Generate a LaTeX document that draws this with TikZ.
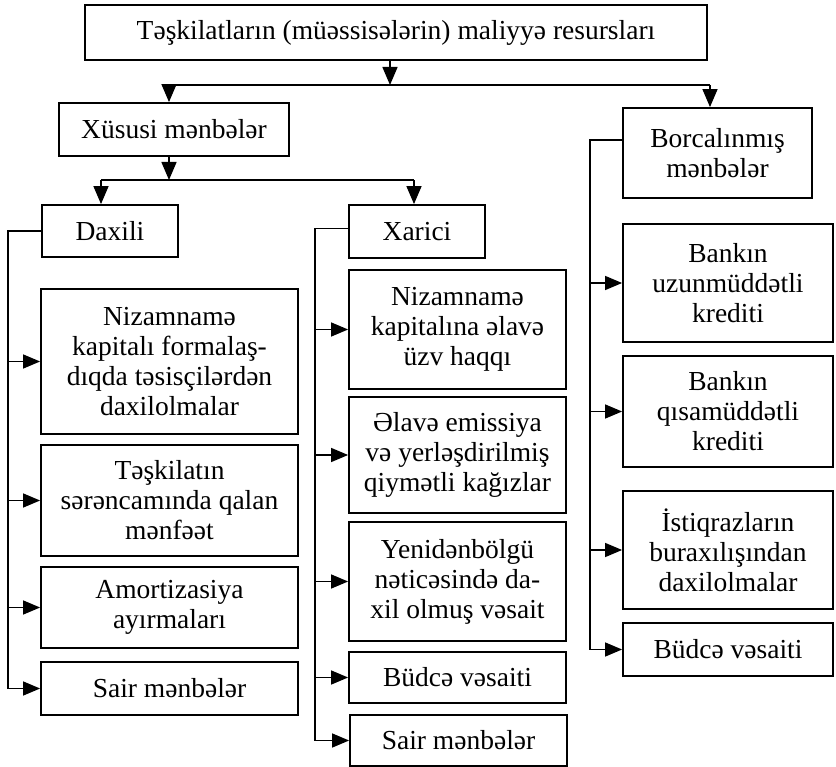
\documentclass[tikz,border=0pt]{standalone}
\usepackage{fontspec}
\setmainfont{Liberation Serif}
\usetikzlibrary{arrows.meta,calc}

\begin{document}
\begin{tikzpicture}[x=1pt,y=-1pt,
  box/.style={draw,line width=1.8pt,align=center,inner sep=0pt,
    font=\fontsize{27.5}{30}\selectfont},
  link/.style={line width=1.4pt},
  arr/.style={line width=1.4pt,-{Triangle[length=18pt,width=15pt]}},
  harr/.style={line width=1.4pt,-{Triangle[length=17pt,width=14pt]}}]
\useasboundingbox (0,0) rectangle (836,767);

% top level
\node[box,minimum width=622pt,minimum height=55pt] (top) at (396,32.5)
  {Təşkilatların (müəssisələrin) maliyyə resursları};
\node[box,minimum width=230pt,minimum height=53pt] (own) at (174,129.5)
  {Xüsusi mənbələr};
\node[box,minimum width=189pt,minimum height=90pt] (borc) at (717.5,153)
  {Borcalınmış\\mənbələr};

% second level of own sources
\node[box,minimum width=136pt,minimum height=52pt] (dax) at (110,231) {Daxili};
\node[box,minimum width=136pt,minimum height=53pt] (xar) at (417,231.5) {Xarici};

% internal sources
\node[box,minimum width=257pt,minimum height=145pt] (L1) at (169.5,361.5)
  {Nizamnamə\\kapitalı formalaş-\\dıqda təsisçilərdən\\daxilolmalar};
\node[box,minimum width=257pt,minimum height=111pt] (L2) at (169.5,500.5)
  {Təşkilatın\\sərəncamında qalan\\mənfəət};
\node[box,minimum width=257pt,minimum height=81pt] (L3) at (169.5,607.5)
  {Amortizasiya\\ayırmaları};
\node[box,minimum width=257pt,minimum height=53pt] (L4) at (169.5,688.5)
  {Sair mənbələr};

% external sources
\node[box,minimum width=217pt,minimum height=119pt] (M1) at (457.5,329.5)
  {Nizamnamə\\kapitalına əlavə\\üzv haqqı};
\node[box,minimum width=217pt,minimum height=116pt] (M2) at (457.5,455)
  {Əlavə emissiya\\və yerləşdirilmiş\\qiymətli kağızlar};
\node[box,minimum width=217pt,minimum height=119pt] (M3) at (457.5,581.5)
  {Yenidənbölgü\\nəticəsində da-\\xil olmuş vəsait};
\node[box,minimum width=217pt,minimum height=51pt] (M4) at (457.5,677.5)
  {Büdcə vəsaiti};
\node[box,minimum width=217pt,minimum height=51pt] (M5) at (458.5,740.5)
  {Sair mənbələr};

% borrowed sources
\node[box,minimum width=210pt,minimum height=118pt] (R1) at (728,283)
  {Bankın\\uzunmüddətli\\krediti};
\node[box,minimum width=210pt,minimum height=111pt] (R2) at (728,411.5)
  {Bankın\\qısamüddətli\\krediti};
\node[box,minimum width=210pt,minimum height=118pt] (R3) at (728,550)
  {İstiqrazların\\buraxılışından\\daxilolmalar};
\node[box,minimum width=210pt,minimum height=53pt] (R4) at (728,649.5)
  {Büdcə vəsaiti};

% junctions and trunk lines
\coordinate (j1) at (390,85);
\coordinate (j2) at (169,180);
\coordinate (tl) at (8,0);
\coordinate (tm) at (315,0);
\coordinate (tr) at (590,0);

% top split
\draw[arr] (top.south -| j1) -- (j1);
\draw[link] (j1 -| 169,0) -- (j1 -| 710,0);
\draw[arr] (j1 -| 169,0) -- (own.north -| 169,0);
\draw[arr] (j1 -| 710,0) -- (borc.north -| 710,0);

% own sources split
\draw[arr] (own.south -| j2) -- (j2);
\draw[link] (j2 -| 101,0) -- (j2 -| 414,0);
\draw[arr] (j2 -| 101,0) -- (dax.north -| 101,0);
\draw[arr] (j2 -| 414,0) -- (xar.north -| 414,0);

% internal trunk
\draw[harr] (dax.west) -- (dax.west -| tl) |- (L4.west);
\foreach \n in {L1,L2,L3} \draw[harr] (\n.west -| tl) -- (\n.west);

% external trunk
\draw[harr] ($(xar.west)+(0,-3)$) -- ($(xar.west -| tm)+(0,-3)$) |- (M5.west);
\foreach \n in {M1,M2,M3,M4} \draw[harr] (\n.west -| tm) -- (\n.west);

% borrowed trunk
\draw[harr] ($(borc.west)+(0,-13)$) -- ($(borc.west -| tr)+(0,-13)$) |- (R4.west);
\foreach \n in {R1,R2,R3} \draw[harr] (\n.west -| tr) -- (\n.west);
\end{tikzpicture}
\end{document}
